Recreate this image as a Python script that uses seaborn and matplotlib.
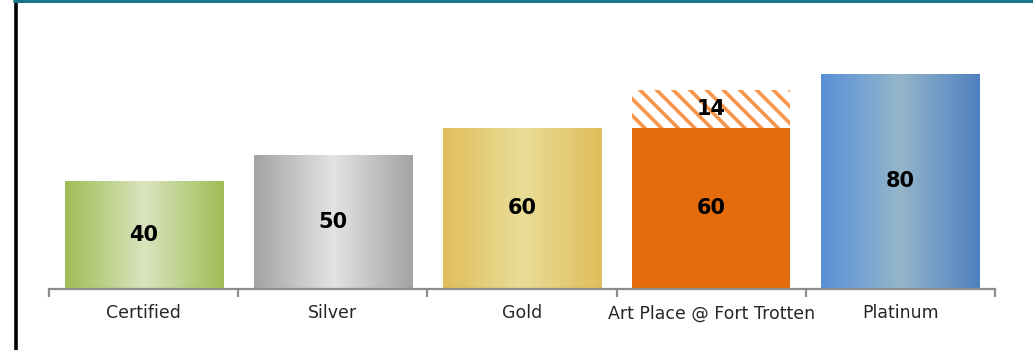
import numpy as np
import pandas as pd
import matplotlib
matplotlib.use("Agg")
import matplotlib.pyplot as plt
from matplotlib.lines import Line2D
from matplotlib.colors import LinearSegmentedColormap
import seaborn as sns

categories = ["Certified", "Silver", "Gold", "Art Place @ Fort Trotten", "Platinum"]
base_values = [40, 50, 60, 60, 80]
extra_values = [0, 0, 0, 14, 0]

left_colors = ["#9fbd55", "#a3a3a3", "#e0bd5a", None, "#5890d8"]
center_colors = ["#dae4be", "#e3e3e6", "#e9dd98", None, "#94b6ca"]
right_colors = ["#9fbd55", "#a3a3a3", "#e0bd5a", None, "#4f80c0"]
solid_orange = "#e46c0c"
stripe_orange = "#f7964a"

sns.set_theme(style="white")
plt.rcParams["font.family"] = ["DejaVu Sans"]
plt.rcParams["hatch.linewidth"] = 2.6

fig = plt.figure(figsize=(10.33, 3.5), dpi=100)
ax = fig.add_axes([49 / 1033, 61 / 350, (995 - 49) / 1033, 269 / 350])

totals = [b + e for b, e in zip(base_values, extra_values)]
df_tot = pd.DataFrame({"cat": categories, "val": totals})
df_base = pd.DataFrame({"cat": categories, "val": base_values})

# top (hatched) segment: totals drawn first, then base overlaid
sns.barplot(data=df_tot, x="cat", y="val", ax=ax, width=0.836, color="white",
            hatch="\\\\", edgecolor=stripe_orange, linewidth=0, errorbar=None,
            saturation=1)
n_tot = len(ax.patches)
sns.barplot(data=df_base, x="cat", y="val", ax=ax, width=0.836, color=solid_orange,
            linewidth=0, errorbar=None, saturation=1)
base_patches = ax.patches[n_tot:]

ax.set_xlim(-0.5, len(categories) - 0.5)
ax.set_ylim(0, 100)

# gradient fills
for i, p in enumerate(base_patches):
    if left_colors[i] is None:
        p.set_facecolor(solid_orange)
        continue
    cmap = LinearSegmentedColormap.from_list(
        "g", [left_colors[i], center_colors[i], right_colors[i]])
    x0, y0 = p.get_x(), p.get_y()
    w, h = p.get_width(), p.get_height()
    grad = np.linspace(0, 1, 256).reshape(1, -1)
    im = ax.imshow(grad, extent=[x0, x0 + w, y0, y0 + h], aspect="auto",
                   cmap=cmap, zorder=p.get_zorder() + 0.1, interpolation="bicubic")
    im.set_clip_path(p)
    p.set_facecolor("none")

ax.set_xlim(-0.5, len(categories) - 0.5)
ax.set_ylim(0, 100)

# value labels
for i, v in enumerate(base_values):
    ax.text(i, v / 2, str(v), ha="center", va="center", fontsize=15,
            fontweight="bold", color="black", zorder=10)
for i, (b, e) in enumerate(zip(base_values, extra_values)):
    if e > 0:
        ax.text(i, b + e / 2, str(e), ha="center", va="center", fontsize=15,
                fontweight="bold", color="black", zorder=10)

# axes styling
for s in ["top", "right", "left"]:
    ax.spines[s].set_visible(False)
ax.spines["bottom"].set_color("#8c8c8c")
ax.spines["bottom"].set_linewidth(1.6)
ax.set_yticks([])
ax.set_xlabel("")
ax.set_ylabel("")
ax.set_xticks(range(len(categories)))
ax.set_xticklabels(categories, fontsize=12.5, color="#262626")
ax.tick_params(axis="x", which="major", length=0, pad=11)
ax.set_xticks(np.arange(-0.5, len(categories), 1.0), minor=True)
ax.tick_params(axis="x", which="minor", length=6, width=1.6, color="#8c8c8c",
               direction="out", bottom=True)

# frame lines
fig.add_artist(Line2D([15.5 / 1033, 15.5 / 1033], [0, 1], color="black",
                      linewidth=2.6, transform=fig.transFigure))
fig.add_artist(Line2D([14 / 1033, 1], [349 / 350, 349 / 350], color="#17768a",
                      linewidth=2.2, transform=fig.transFigure))

fig.savefig("out.png", dpi=100)
